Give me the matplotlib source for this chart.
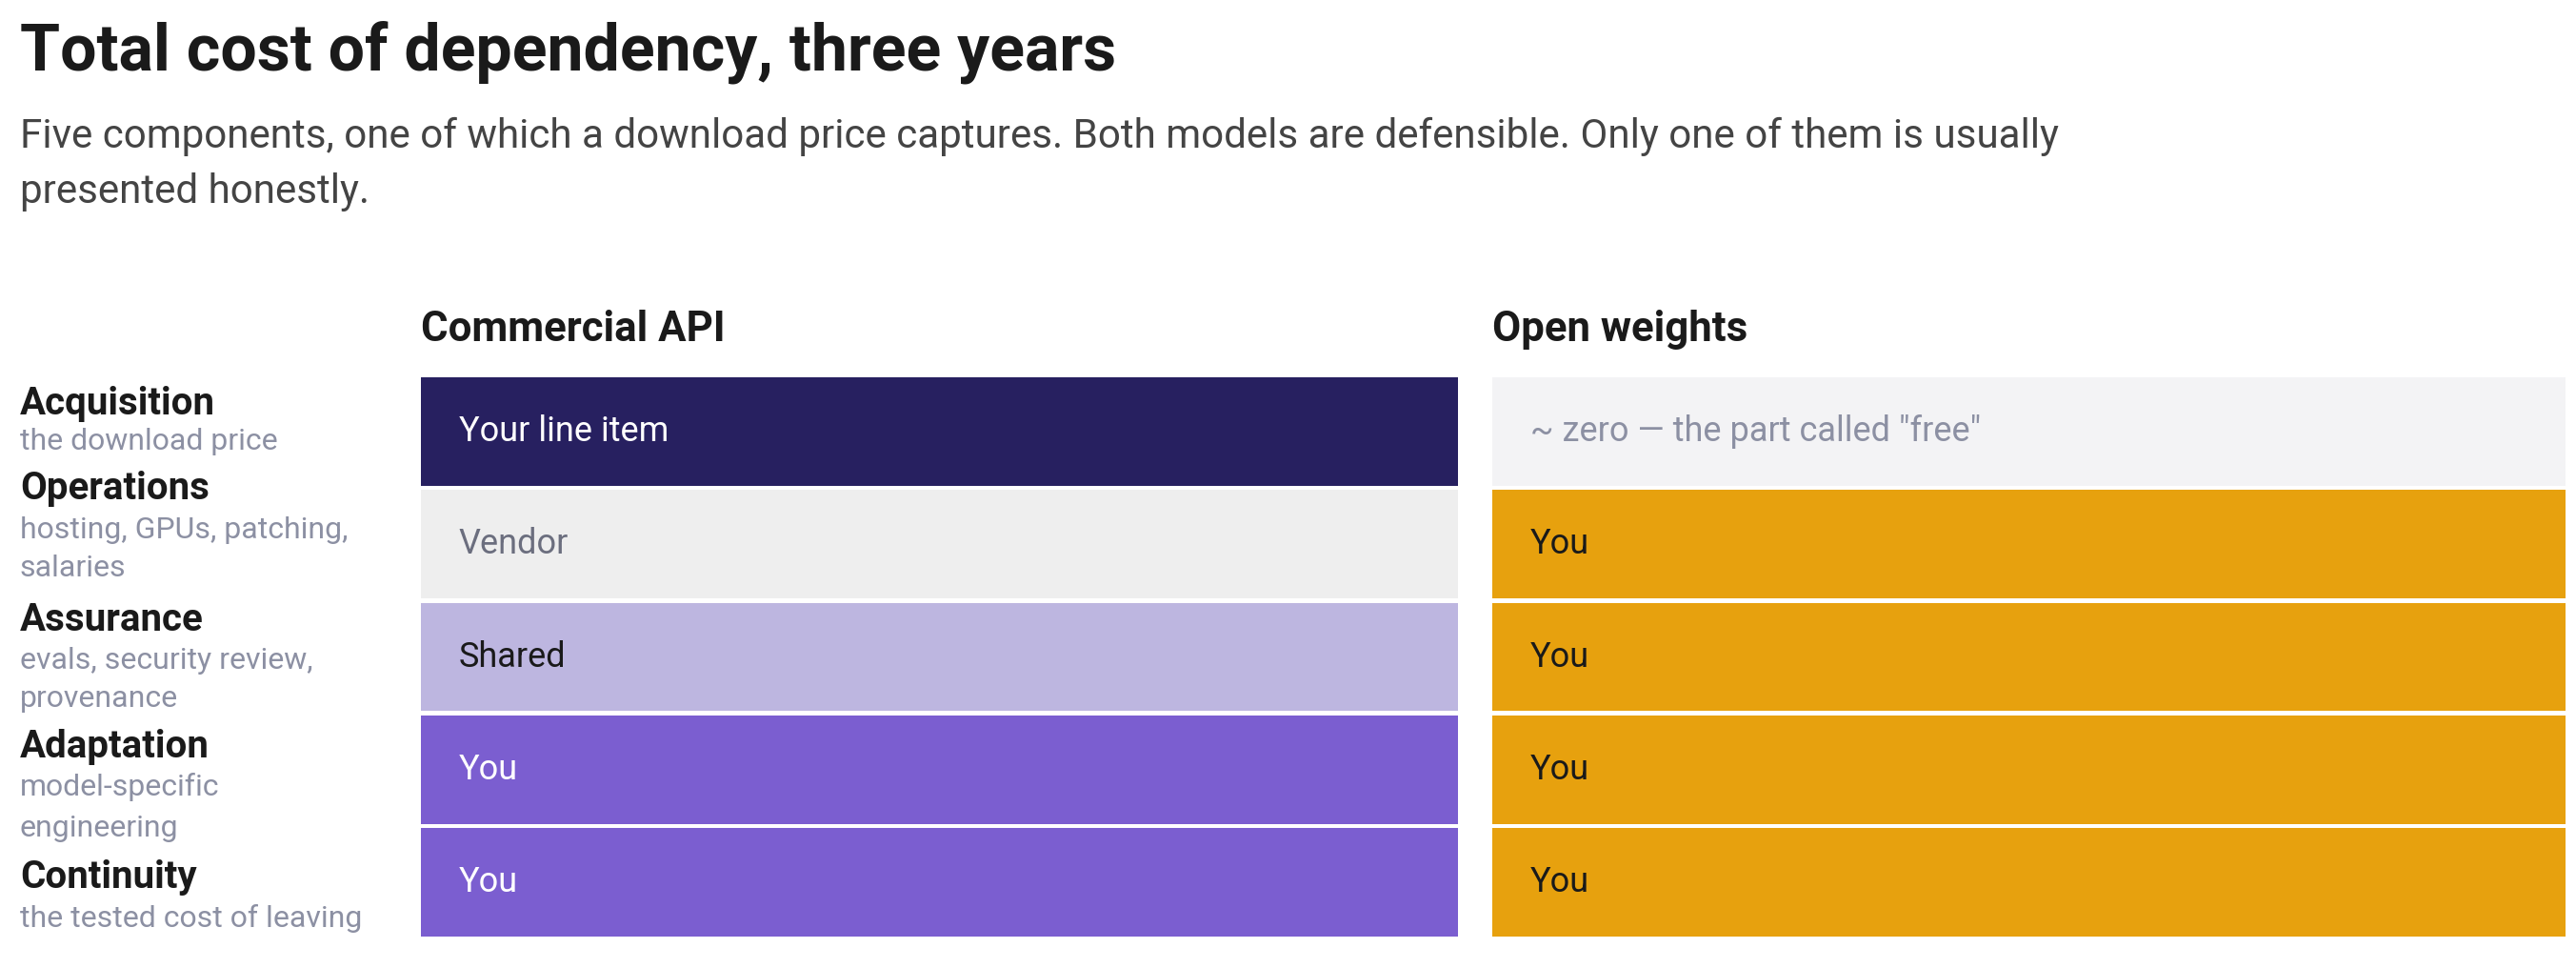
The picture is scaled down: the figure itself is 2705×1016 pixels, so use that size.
import matplotlib
matplotlib.use('Agg')
import matplotlib.pyplot as plt

plt.rcParams['font.family'] = ['Roboto', 'DejaVu Sans']

title = 'Total cost of dependency, three years'
subtitle = ['Five components, one of which a download price captures. Both models are defensible. Only one of them is usually',
            'presented honestly.']

components = ['Acquisition', 'Operations', 'Assurance', 'Adaptation', 'Continuity']
descriptions = [['the download price'],
                ['hosting, GPUs, patching,', 'salaries'],
                ['evals, security review,', 'provenance'],
                ['model-specific', 'engineering'],
                ['the tested cost of leaving']]

columns = ['Commercial API', 'Open weights']
api_cells = ['Your line item', 'Vendor', 'Shared', 'You', 'You']
open_cells = ['~ zero \u2014 the part called "free"', 'You', 'You', 'You', 'You']

api_fill = ['#272060', '#EEEEEE', '#BDB6E0', '#7B5ED0', '#7B5ED0']
api_text = ['#FFFFFF', '#6B6E7E', '#1A1A1A', '#FFFFFF', '#FFFFFF']
open_fill = ['#F3F3F5', '#E7A10E', '#E7A10E', '#E7A10E', '#E7A10E']
open_text = ['#8C90A3', '#1A1A1A', '#1A1A1A', '#1A1A1A', '#1A1A1A']

W, H = 2705, 1016
fig = plt.figure(figsize=(W / 100, H / 100), dpi=100)
fig.patch.set_facecolor('white')


def fx(px):
    return px / W


def fy(py):
    return 1 - py / H


fig.text(fx(21), fy(74), title, fontsize=49, fontweight='bold', color='#1A1A1A', va='baseline')
fig.text(fx(21), fy(155), subtitle[0], fontsize=30.3, color='#444444', va='baseline')
fig.text(fx(21), fy(213), subtitle[1], fontsize=30.3, color='#444444', va='baseline')

# row labels (baselines in px, as the text flows in the reference)
name_base = [435, 524, 662, 795, 932]
desc_base = [[472], [565, 605], [702, 742], [835, 878], [973]]
for name, desc, yb, ybs in zip(components, descriptions, name_base, desc_base):
    fig.text(fx(21), fy(yb), name, fontsize=29, fontweight='bold', color='#1A1A1A', va='baseline')
    for line, yd in zip(desc, ybs):
        fig.text(fx(21), fy(yd), line, fontsize=23, color='#8C90A3', va='baseline')

# the two columns
top, bottom = 394, 985
col_specs = [(442, 1531, columns[0], api_cells, api_fill, api_text),
             (1567, 2694, columns[1], open_cells, open_fill, open_text)]
n = len(components)
for x0, x1, head, cells, fills, tcols in col_specs:
    fig.text(fx(x0), fy(358), head, fontsize=31.5, fontweight='bold', color='#1A1A1A', va='baseline')
    ax = fig.add_axes([fx(x0), fy(bottom), (x1 - x0) / W, (bottom - top) / H])
    ax.barh(range(n), [1] * n, left=0, height=0.963, color=fills)
    ax.set_xlim(0, 1)
    ax.set_ylim(n - 0.5, -0.5)
    ax.axis('off')
    for i, (txt, c) in enumerate(zip(cells, tcols)):
        ax.annotate(txt, xy=(0, i), xytext=(28.5, 0), textcoords='offset points',
                    fontsize=26, color=c, va='center', ha='left')

fig.savefig('out.png', dpi=100, facecolor='white')
